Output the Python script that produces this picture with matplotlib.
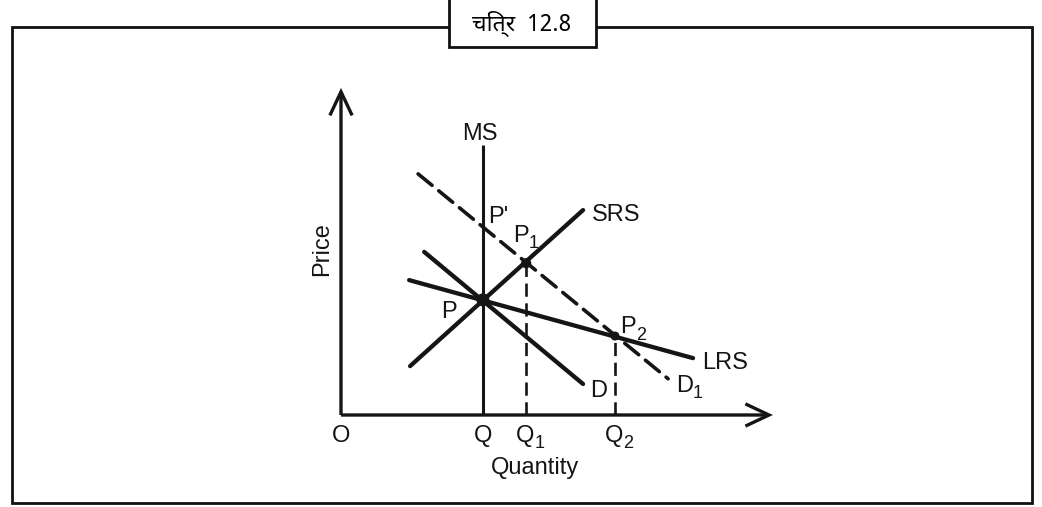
import matplotlib
matplotlib.use("Agg")
import matplotlib.pyplot as plt
from matplotlib.patches import FancyArrowPatch, Rectangle

plt.rcParams["font.family"] = ["Liberation Sans", "DejaVu Sans"]

# ---- curves (quantity, price) ----
ms_x = [3.02, 3.02]
ms_y = [0.0, 5.74]
d_x = [1.77, 5.15]
d_y = [3.47, 0.66]
d1_x = [1.64, 6.96]
d1_y = [5.13, 0.77]
srs_x = [1.47, 5.15]
srs_y = [1.04, 4.36]
lrs_x = [1.45, 7.49]
lrs_y = [2.87, 1.21]

# equilibrium points
eq_names = ["P", "P1", "P2"]
eq_q = [3.02, 3.94, 5.83]
eq_p = [2.45, 3.23, 1.68]

# axis extents
q_max = 9.19
p_max = 6.96

# tick labels on the quantity axis: (letter, subscript)
q_ticks = [0.0, 3.02, 3.94, 5.83]
q_labels = [("O", ""), ("Q", ""), ("Q", "1"), ("Q", "2")]

title = "चित्र  12.8"

W, H = 1042, 507
fig = plt.figure(figsize=(W / 100, H / 100), dpi=100)

# frame overlay in pixel space
frame = fig.add_axes([0, 0, 1, 1])
frame.set_xlim(0, W)
frame.set_ylim(H, 0)
frame.axis("off")
frame.add_patch(Rectangle((12, 27), 1020, 476, fill=False, lw=2.0, ec="#111"))
frame.add_patch(Rectangle((449, -3), 147, 50, fc="white", lw=2.0, ec="#111", zorder=3))
frame.text(522, 24, title, ha="center", va="center", fontsize=16.5, fontweight="bold",
           family=["Noto Sans Devanagari", "Lohit Devanagari", "FreeSans", "Noto Sans", "DejaVu Sans"],
           zorder=4)

# diagram axes: origin placed on the graph origin
s = 47.0
ox, oy = 341, 415
ax = fig.add_axes([0, 0, 1, 1])
ax.set_xlim(-ox / s, (W - ox) / s)
ax.set_ylim(-(H - oy) / s, oy / s)
ax.axis("off")
ax.patch.set_alpha(0)

k = "#151515"
# axes with open arrowheads
for start, end in [((0, 0), (0, p_max)), ((0, 0), (q_max, 0))]:
    ax.add_patch(FancyArrowPatch(start, end, arrowstyle="->,head_length=0.85,head_width=0.4",
                                 mutation_scale=20, lw=2.4, color=k, shrinkA=0, shrinkB=0,
                                 capstyle="butt", joinstyle="miter"))

ax.plot(ms_x, ms_y, color=k, lw=2.2, solid_capstyle="butt")
ax.plot(d_x, d_y, color=k, lw=3.1, solid_capstyle="round")
ax.plot(srs_x, srs_y, color=k, lw=3.1, solid_capstyle="round")
ax.plot(lrs_x, lrs_y, color=k, lw=3.1, solid_capstyle="round")
ax.plot(d1_x, d1_y, color=k, lw=2.6, linestyle=(0, (5.0, 2.4)), dash_capstyle="round")

# dropped dashed lines to Q1 and Q2
for q, p in zip(eq_q[1:], eq_p[1:]):
    ax.plot([q, q], [0, p], color=k, lw=1.9, linestyle=(0, (5.0, 2.5)))

ax.scatter(eq_q, eq_p, s=[70, 40, 30], color=k, zorder=5)

fs = 17
fs_sub = 13


def label(x, y, main, sub="", ha="left"):
    t = ax.text(x, y, main, ha=ha, va="baseline", fontsize=fs, color=k)
    if sub:
        ax.annotate(sub, xy=(1.0, 0.0), xycoords=t, xytext=(0, -1),
                    textcoords="offset points", ha="left", va="baseline",
                    fontsize=fs_sub, color=k)


label(2.96, 5.85, "MS", ha="center")
label(3.12, 4.08, "P'")
label(3.66, 3.68, "P", "1")
label(5.34, 4.13, "SRS")
label(2.13, 2.06, "P")
label(5.94, 1.74, "P", "2")
label(7.68, 0.98, "LRS")
label(5.30, 0.38, "D")
label(7.13, 0.49, "D", "1")

for q, (main, sub) in zip(q_ticks, q_labels):
    if sub:
        label(q - 0.22, -0.57, main, sub)
    else:
        label(q, -0.57, main, ha="center")

ax.text(4.13, -1.26, "Quantity", ha="center", va="baseline", fontsize=fs, color=k)
ax.text(-0.40, 3.53, "Price", ha="center", va="center", rotation=90, fontsize=fs, color=k)

fig.savefig("out.png", dpi=100)
